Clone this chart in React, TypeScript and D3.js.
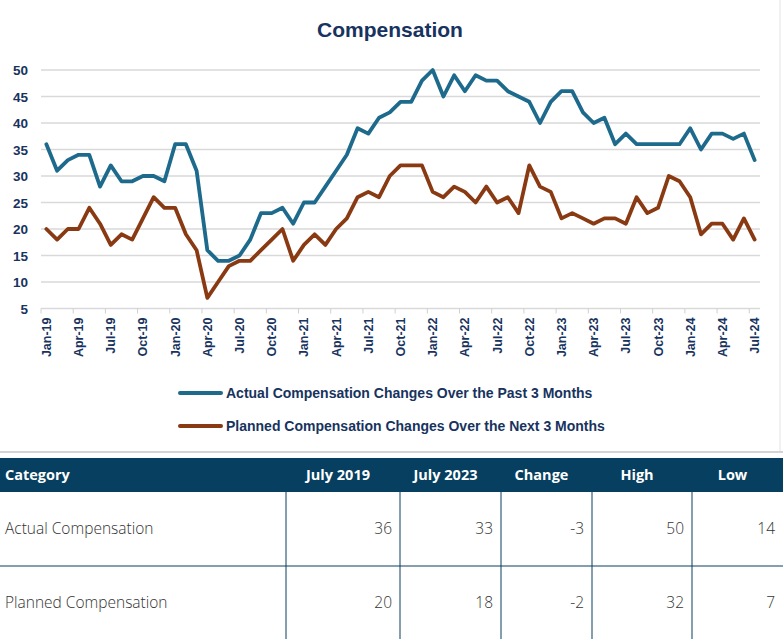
import React from 'react'
import * as d3 from 'd3'

// monthly survey readings, Jan-19 .. Jul-24
const actual = [
  36, 31, 33, 34, 34, 28, 32, 29, 29, 30, 30, 29,
  36, 36, 31, 16, 14, 14, 15, 18, 23, 23, 24, 21,
  25, 25, 28, 31, 34, 39, 38, 41, 42, 44, 44, 48,
  50, 45, 49, 46, 49, 48, 48, 46, 45, 44, 40, 44,
  46, 46, 42, 40, 41, 36, 38, 36, 36, 36, 36, 36,
  39, 35, 38, 38, 37, 38, 33,
]
const planned = [
  20, 18, 20, 20, 24, 21, 17, 19, 18, 22, 26, 24,
  24, 19, 16, 7, 10, 13, 14, 14, 16, 18, 20, 14,
  17, 19, 17, 20, 22, 26, 27, 26, 30, 32, 32, 32,
  27, 26, 28, 27, 25, 28, 25, 26, 23, 32, 28, 27,
  22, 23, 22, 21, 22, 22, 21, 26, 23, 24, 30, 29,
  26, 19, 21, 21, 18, 22, 18,
]
const months = d3.timeMonths(new Date(2019, 0, 1), new Date(2024, 7, 1))
const yTicks = [5, 10, 15, 20, 25, 30, 35, 40, 45, 50]
const seriesNames = [
  'Actual Compensation Changes Over the Past 3 Months',
  'Planned Compensation Changes Over the Next 3 Months',
]
const seriesColors = ['#1d6a8c', '#8a3a12']

const tableHeader = ['Category', 'July 2019', 'July 2023', 'Change', 'High', 'Low']
const tableRows: (string | number)[][] = [
  ['Actual Compensation', 36, 33, -3, 50, 14],
  ['Planned Compensation', 20, 18, -2, 32, 7],
]
const colEdges = [0, 286, 400, 501, 592, 692, 783]

const W = 783
const H = 639
const navy = '#17335e'
const axisFont = '"Liberation Sans", Arial, sans-serif'
const tableFont = '"Open Sans", "Noto Sans", sans-serif'

function App() {
  const x = d3
    .scalePoint<Date>()
    .domain(months)
    .range([41, 760])
    .padding(0.5)
  const step = x.step()
  const y = d3.scaleLinear().domain([5, 50]).range([308.5, 70])
  const fmt = d3.timeFormat('%b-%y')

  const line = d3
    .line<number>()
    .x((d, i) => x(months[i]) as number)
    .y((d) => y(d))

  const series = [actual, planned]
  const tickMonths = months.filter((d, i) => i % 3 === 0)

  const headerTop = 458
  const headerBottom = 492
  const rowH = 74

  return (
    <div style={{position: 'fixed', left: 0, top: 0}}>
      <svg width={W} height={H} style={{display: 'block', background: '#fff'}}>
        <text x={390} y={37} textAnchor="middle" fontFamily={axisFont} fontWeight="bold" fontSize={21} fill={navy}>
          Compensation
        </text>

        {/* gridlines */}
        {yTicks.map((t) => (
          <line key={t} x1={41} x2={760} y1={y(t)} y2={y(t)} stroke="#d9d9d9" strokeWidth={1.5} />
        ))}
        {yTicks.map((t) => (
          <text key={'l' + t} x={28} y={y(t) + 5} textAnchor="end" fontFamily={axisFont} fontWeight="bold" fontSize={13.5} fill={navy}>
            {t}
          </text>
        ))}

        {/* category axis, ticks between categories */}
        {tickMonths.map((d) => (
          <line
            key={'t' + +d}
            x1={(x(d) as number) - step / 2}
            x2={(x(d) as number) - step / 2}
            y1={y(5)}
            y2={y(5) + 5}
            stroke="#d0d0d0"
            strokeWidth={1}
          />
        ))}
        {tickMonths.map((d) => (
          <text
            key={'x' + +d}
            transform={`translate(${(x(d) as number) + 4.5},${y(5) + 9}) rotate(-90)`}
            textAnchor="end"
            fontFamily={axisFont}
            fontWeight="bold"
            fontSize={12.5}
            fill={navy}
          >
            {fmt(d)}
          </text>
        ))}

        {series.map((s, k) => (
          <path key={k} d={line(s) as string} fill="none" stroke={seriesColors[k]} strokeWidth={3.8} strokeLinejoin="round" strokeLinecap="round" />
        ))}

        {/* legend */}
        {seriesNames.map((n, k) => (
          <g key={n} transform={`translate(180,${393 + k * 33})`}>
            <line x1={0} x2={41} y1={0} y2={0} stroke={seriesColors[k]} strokeWidth={4} strokeLinecap="round" />
            <text x={46} y={5} fontFamily={axisFont} fontWeight="bold" fontSize={14} fill={navy}>
              {n}
            </text>
          </g>
        ))}

        <line x1={780} x2={780} y1={0} y2={451} stroke="#e3e3e3" strokeWidth={1} />
        <line x1={0} x2={W} y1={452} y2={452} stroke="#d4d4d4" strokeWidth={2} />

        {/* table */}
        <rect x={0} y={headerTop} width={W} height={headerBottom - headerTop} fill="#063f60" />
        {tableHeader.map((h, i) => (
          <text
            key={h}
            x={i === 0 ? 5 : (colEdges[i] + colEdges[i + 1]) / 2 - 5}
            y={headerTop + 22}
            textAnchor={i === 0 ? 'start' : 'middle'}
            fontFamily={tableFont}
            fontWeight="bold"
            fontSize={14.5}
            fill="#fff"
          >
            {h}
          </text>
        ))}
        {colEdges.slice(1, -1).map((c) => (
          <line key={c} x1={c} x2={c} y1={headerBottom} y2={H} stroke="#063f60" strokeWidth={1} />
        ))}
        <line x1={0} x2={W} y1={headerBottom + rowH} y2={headerBottom + rowH} stroke="#063f60" strokeWidth={1} />
        {tableRows.map((r, ri) =>
          r.map((v, ci) => (
            <text
              key={ri + '-' + ci}
              x={ci === 0 ? 5 : colEdges[ci + 1] - 8}
              y={headerBottom + rowH * ri + rowH / 2 + 5}
              textAnchor={ci === 0 ? 'start' : 'end'}
              fontFamily={tableFont}
              fontWeight={300}
              fontSize={15.5}
              fill="#333"
            >
              {v}
            </text>
          )),
        )}
      </svg>
    </div>
  )
}

export default App
